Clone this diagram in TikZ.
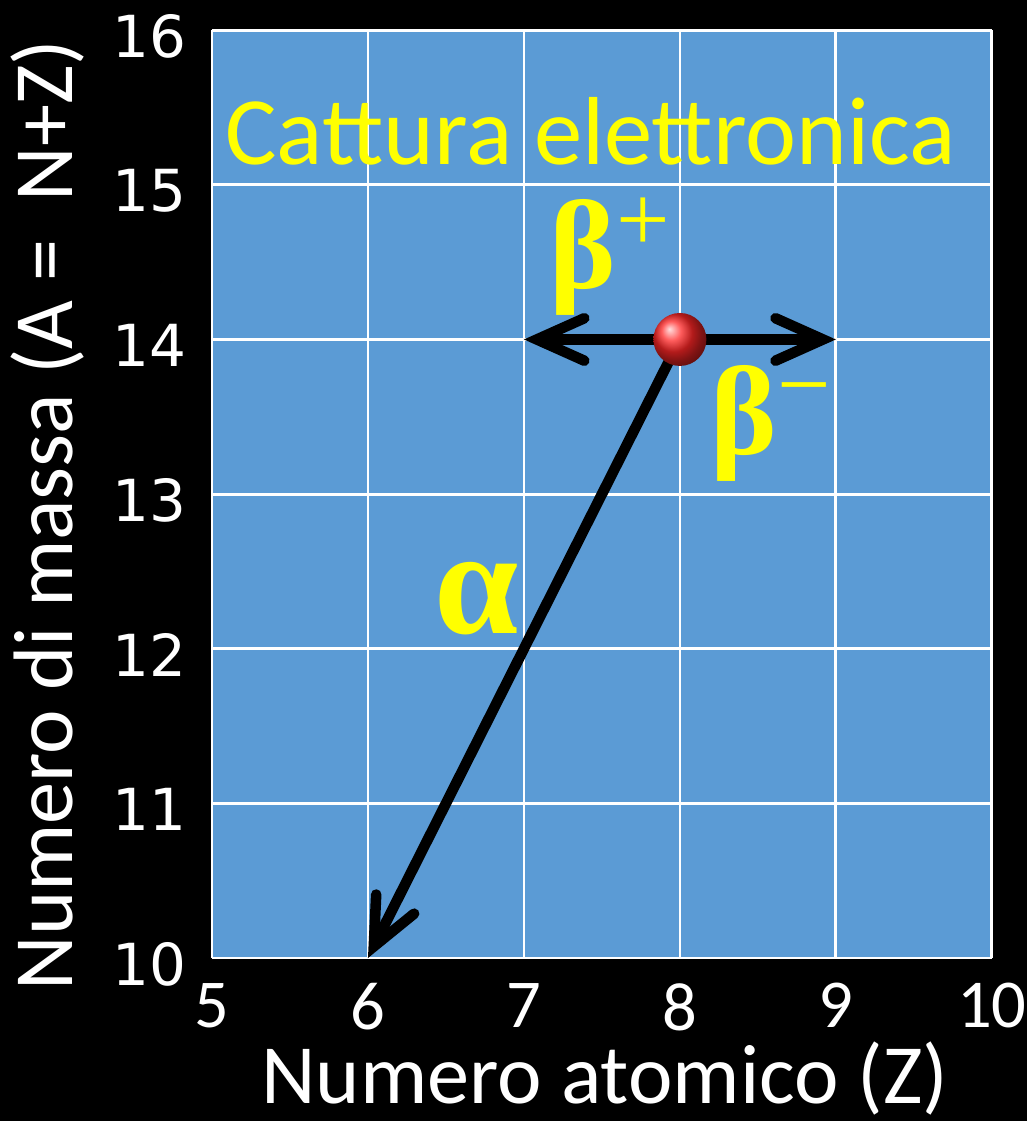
\documentclass[tikz,border=0pt]{standalone}
\usepackage{fontspec}
\setmainfont{Carlito}
\newfontfamily\tickfont{DejaVu Sans}
\newfontfamily\greekfont{Liberation Serif}
\usepackage{xcolor}
\definecolor{plotblue}{RGB}{91,155,213}
\definecolor{decayyellow}{RGB}{255,255,0}
\usetikzlibrary{arrows.meta}

\pgfdeclarelayer{front}
\pgfsetlayers{main,front}

\tikzset{
  gridline/.style={white, line width=1.6pt},
  decay/.style={black, line width=6pt, line cap=round,
    -{Straight Barb[length=0.95cm, width=0.85cm, line cap=round]}},
  nucleusball/.style={circle, ball color=red!85!white, minimum size=1.06cm, inner sep=0pt},
  decaylabel/.style={decayyellow, inner sep=0pt, font=\greekfont\bfseries\fontsize{72}{72}\selectfont},
  xtick/.style={white, anchor=north, inner sep=0pt, text depth=0pt, yshift=-0.5cm,
    font=\fontsize{39}{39}\selectfont},
  ytick/.style={white, anchor=east, inner sep=0pt, xshift=-0.5cm, yshift=-0.12cm,
    font=\tickfont\fontsize{33}{33}\selectfont},
  axistitle/.style={white, inner sep=0pt, font=\fontsize{48}{48}\selectfont},
}
\newcommand{\chargesign}[1]{\raisebox{0.3em}{\mdseries\fontsize{54}{54}\selectfont #1}}

\begin{document}
\begin{tikzpicture}[x=0.02cm, y=-0.02cm]
  \useasboundingbox (0,0) rectangle (1027,1121);
  \fill[black] (0,0) rectangle (1027,1121);

  % --- plot area, data coordinates (Z, A) ---
  \begin{scope}[shift={(212,958)}, x=3.12cm, y=3.0933cm, shift={(-5,-10)}]
    \fill[plotblue] (5,10) rectangle (10,16);
    \foreach \z in {5,...,10}
      \draw[gridline] (\z,10) -- (\z,16);
    \foreach \a in {10,...,16}
      \draw[gridline] (5,\a) -- (10,\a);

    % tick labels
    \foreach \z in {5,...,10}
      \node[xtick] (z\z) at (\z,10) {\z};
    \foreach \a in {10,...,16}
      \node[ytick] (a\a) at (5,\a) {\a};

    % nucleus and decays
    \begin{pgfonlayer}{front}
      \node[nucleusball] (nucleus) at (8,14) {};
    \end{pgfonlayer}
    \coordinate (betaplus) at (7,14);
    \coordinate (betaminus) at (9,14);
    \coordinate (alpha) at (6,10);
    \draw[decay] (nucleus.center) -- (betaplus);
    \draw[decay] (nucleus.center) -- (betaminus);
    \draw[decay] (nucleus.center) -- (alpha);
  \end{scope}

  % --- labels ---
  \node[decaylabel, anchor=base west] (lbetaplus) at (549,289) {β\chargesign{+}};
  \node[decaylabel, anchor=base west] (lbetaminus) at (710,454) {β\chargesign{−}};
  \node[decaylabel, anchor=base west, font=\greekfont\bfseries\fontsize{86}{86}\selectfont]
    (lalpha) at (434,633) {α};
  \node[decayyellow, inner sep=0pt, text depth=0pt, anchor=base west, font=\fontsize{55}{55}\selectfont]
    (capture) at (225,165) {Cattura elettronica};

  % axis titles
  \node[axistitle, anchor=base] (xtitle) at (605,1103) {Numero atomico (Z)};
  \node[axistitle, anchor=base, rotate=90] (ytitle) at (72,515) {Numero di massa (A =~ N+Z)};
\end{tikzpicture}
\end{document}
